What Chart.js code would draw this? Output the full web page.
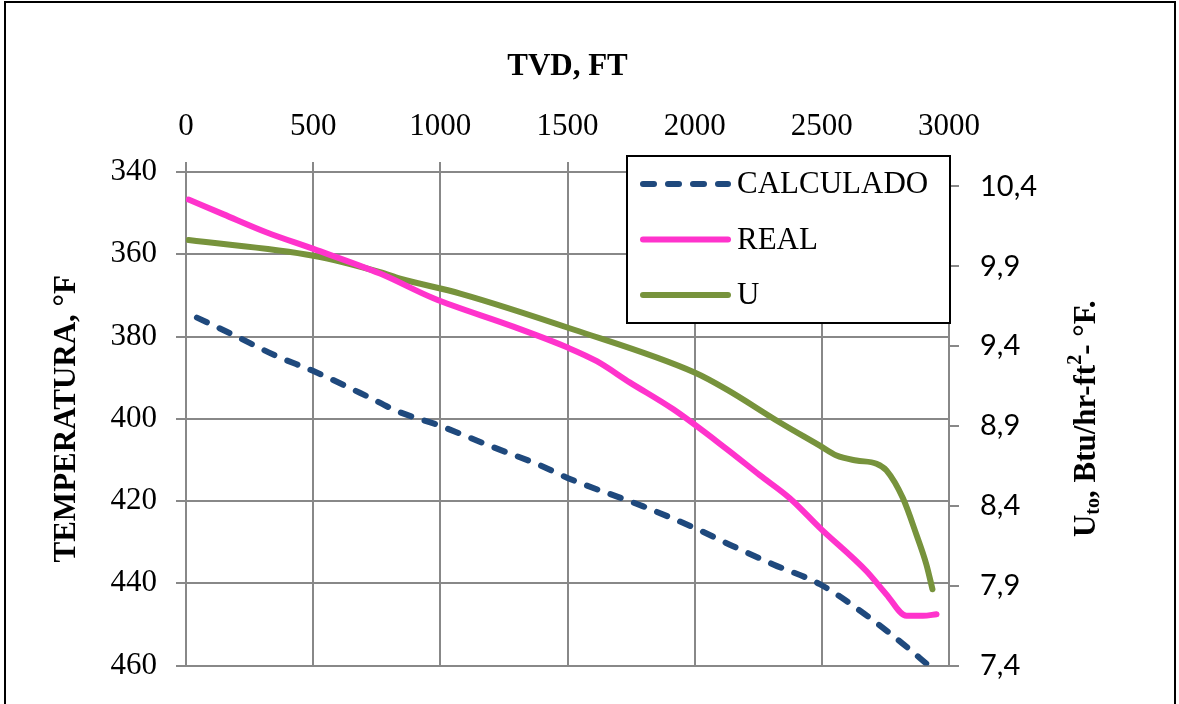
<!DOCTYPE html>
<html lang="es">
<head>
    <meta charset="UTF-8">
    <title>TVD vs Temperatura</title>
    <script src="https://cdn.jsdelivr.net/npm/chart.js"></script>
    <style>
        html, body { margin: 0; padding: 0; background: #fff; }
        #wrap { width: 1179px; height: 704px; position: relative; }
    </style>
</head>
<body>
    <div id="wrap"><canvas id="tvdChart"></canvas></div>

    <script>
        // CALCULADO: TVD (ft) vs temperatura (°F)
        const calcDepth = [43, 186, 358, 501, 711, 829, 999, 1208, 1392, 1505, 1798, 2002, 2138, 2309, 2492, 2649, 2819, 2918];
        const calcTemp  = [375.4, 379.6, 384.8, 388.4, 394.5, 398.1, 401.7, 406.9, 411.3, 414.5, 421.3, 426.6, 430.6, 435.4, 440.2, 446.6, 454.7, 459.9];

        // REAL: TVD (ft) vs temperatura (°F)
        const realDepth = [10, 148, 318, 501, 763, 973, 1287, 1505, 1615, 1746, 1916, 2125, 2256, 2374, 2492, 2675, 2754, 2833, 2898, 2951];
        const realTemp  = [346.7, 350.3, 354.7, 358.7, 364.7, 370.7, 377.6, 382.8, 386.0, 391.2, 397.7, 407.3, 413.7, 419.3, 426.5, 437.0, 442.7, 447.9, 447.9, 447.5];

        // U: TVD (ft) vs Uto (Btu/hr-ft2-°F)
        const uDepth = [10, 501, 763, 842, 1078, 1523, 2002, 2125, 2335, 2492, 2558, 2636, 2715, 2754, 2819, 2872, 2911, 2935];
        const uValue = [10.064, 9.966, 9.863, 9.822, 9.729, 9.504, 9.233, 9.129, 8.922, 8.777, 8.715, 8.684, 8.664, 8.622, 8.447, 8.219, 8.033, 7.878];

        const uTicks = [7.4, 7.9, 8.4, 8.9, 9.4, 9.9, 10.4];

        const GRID = '#888888';
        const SERIF = '"Liberation Serif", "Times New Roman", serif';

        function pairs(xs, ys) {
            return xs.map((x, i) => ({ x: x, y: ys[i] }));
        }

        // marco negro alrededor del gráfico
        const framePlugin = {
            id: 'frame',
            afterDraw(chart) {
                const ctx = chart.ctx;
                ctx.save();
                ctx.strokeStyle = '#000';
                ctx.lineWidth = 2;
                ctx.strokeRect(5, 2, chart.width - 9, chart.height + 20);
                ctx.restore();
            }
        };

        // leyenda con recuadro dentro del área
        const boxLegend = {
            id: 'boxLegend',
            afterDraw(chart) {
                const ctx = chart.ctx;
                const left = 627, top = 156, w = 323, h = 167;
                ctx.save();
                ctx.fillStyle = '#fff';
                ctx.fillRect(left, top, w, h);
                ctx.strokeStyle = '#000';
                ctx.lineWidth = 2;
                ctx.strokeRect(left, top, w, h);
                ctx.font = '31px ' + SERIF;
                ctx.textBaseline = 'middle';
                chart.data.datasets.forEach((ds, i) => {
                    const y = top + 28 + i * 55.5;
                    ctx.beginPath();
                    ctx.strokeStyle = ds.borderColor;
                    ctx.lineWidth = ds.borderWidth;
                    ctx.lineCap = 'round';
                    ctx.setLineDash(ds.borderDash || []);
                    ctx.moveTo(left + 16, y);
                    ctx.lineTo(left + 101, y);
                    ctx.stroke();
                    ctx.setLineDash([]);
                    ctx.fillStyle = '#000';
                    ctx.fillText(ds.label, left + 110, y + 1);
                });
                ctx.restore();
            }
        };

        // título del eje derecho con subíndice y superíndice
        const rightTitle = {
            id: 'rightTitle',
            afterDraw(chart) {
                const ctx = chart.ctx;
                const parts = [
                    { t: 'U', size: 31, dy: 0 },
                    { t: 'to', size: 20, dy: 7 },
                    { t: ', Btu/hr-ft', size: 31, dy: 0 },
                    { t: '2', size: 20, dy: -11 },
                    { t: '- °F.', size: 31, dy: 0 }
                ];
                ctx.save();
                let total = 0;
                parts.forEach(p => {
                    ctx.font = 'bold ' + p.size + 'px ' + SERIF;
                    p.w = ctx.measureText(p.t).width;
                    total += p.w;
                });
                const cy = (chart.chartArea.top + chart.chartArea.bottom) / 2;
                ctx.translate(1087, cy);
                ctx.rotate(-Math.PI / 2);
                ctx.fillStyle = '#000';
                ctx.textBaseline = 'middle';
                let x = -total / 2;
                parts.forEach(p => {
                    ctx.font = 'bold ' + p.size + 'px ' + SERIF;
                    ctx.fillText(p.t, x, p.dy);
                    x += p.w;
                });
                ctx.restore();
            }
        };

        const ctx = document.getElementById('tvdChart').getContext('2d');
        new Chart(ctx, {
            type: 'line',
            data: {
                datasets: [{
                    label: 'CALCULADO',
                    data: pairs(calcDepth, calcTemp),
                    borderColor: '#1F497D',
                    borderWidth: 6,
                    borderDash: [11, 14],
                    borderCapStyle: 'round',
                    borderJoinStyle: 'round',
                    yAxisID: 'y',
                    cubicInterpolationMode: 'monotone'
                }, {
                    label: 'REAL',
                    data: pairs(realDepth, realTemp),
                    borderColor: '#FF33CC',
                    borderWidth: 6,
                    borderCapStyle: 'round',
                    borderJoinStyle: 'round',
                    yAxisID: 'y',
                    cubicInterpolationMode: 'monotone'
                }, {
                    label: 'U',
                    data: pairs(uDepth, uValue),
                    borderColor: '#77933C',
                    borderWidth: 6,
                    borderCapStyle: 'round',
                    borderJoinStyle: 'round',
                    yAxisID: 'y1',
                    cubicInterpolationMode: 'monotone'
                }]
            },
            options: {
                responsive: true,
                maintainAspectRatio: false,
                animation: false,
                elements: { point: { radius: 0, hoverRadius: 0 } },
                layout: { padding: { left: 0, top: 0, right: 0, bottom: 33 } },
                plugins: {
                    legend: { display: false },
                    tooltip: { enabled: false }
                },
                scales: {
                    x: {
                        type: 'linear',
                        position: 'top',
                        min: 0,
                        max: 3000,
                        ticks: {
                            stepSize: 500,
                            color: '#000',
                            font: { family: SERIF, size: 31 },
                            padding: 17,
                            maxRotation: 0,
                            callback: v => String(v)
                        },
                        grid: { color: GRID, lineWidth: 2, tickLength: 10 },
                        border: { color: GRID, width: 2 },
                        title: {
                            display: true,
                            text: 'TVD, FT',
                            color: '#000',
                            font: { family: SERIF, size: 31, weight: 'bold' },
                            padding: { top: 48, bottom: 0 }
                        },
                        afterFit: s => { s.height = 172; }
                    },
                    y: {
                        type: 'linear',
                        position: 'left',
                        reverse: true,
                        min: 340,
                        max: 460,
                        ticks: {
                            stepSize: 20,
                            color: '#000',
                            font: { family: SERIF, size: 31 },
                            padding: 19,
                            callback: v => String(v)
                        },
                        grid: { color: GRID, lineWidth: 2, tickLength: 10 },
                        border: { color: GRID, width: 2 },
                        title: {
                            display: true,
                            text: 'TEMPERATURA, °F',
                            color: '#000',
                            font: { family: SERIF, size: 31, weight: 'bold' },
                            padding: { top: 48, bottom: 0 }
                        },
                        afterFit: s => { s.width = 186; }
                    },
                    y1: {
                        type: 'linear',
                        position: 'right',
                        min: 7.4,
                        max: 10.49,
                        afterBuildTicks: s => { s.ticks = uTicks.map(v => ({ value: v })); },
                        ticks: {
                            color: '#000',
                            font: { family: 'Lato, "Liberation Sans", sans-serif', size: 29 },
                            padding: 21,
                            callback: v => v.toFixed(1).replace('.', ',')
                        },
                        grid: { drawOnChartArea: false, color: GRID, lineWidth: 2, tickLength: 10 },
                        border: { color: GRID, width: 2 },
                        afterFit: s => { s.width = 230; }
                    }
                }
            },
            plugins: [framePlugin, boxLegend, rightTitle]
        });
    </script>
</body>
</html>
